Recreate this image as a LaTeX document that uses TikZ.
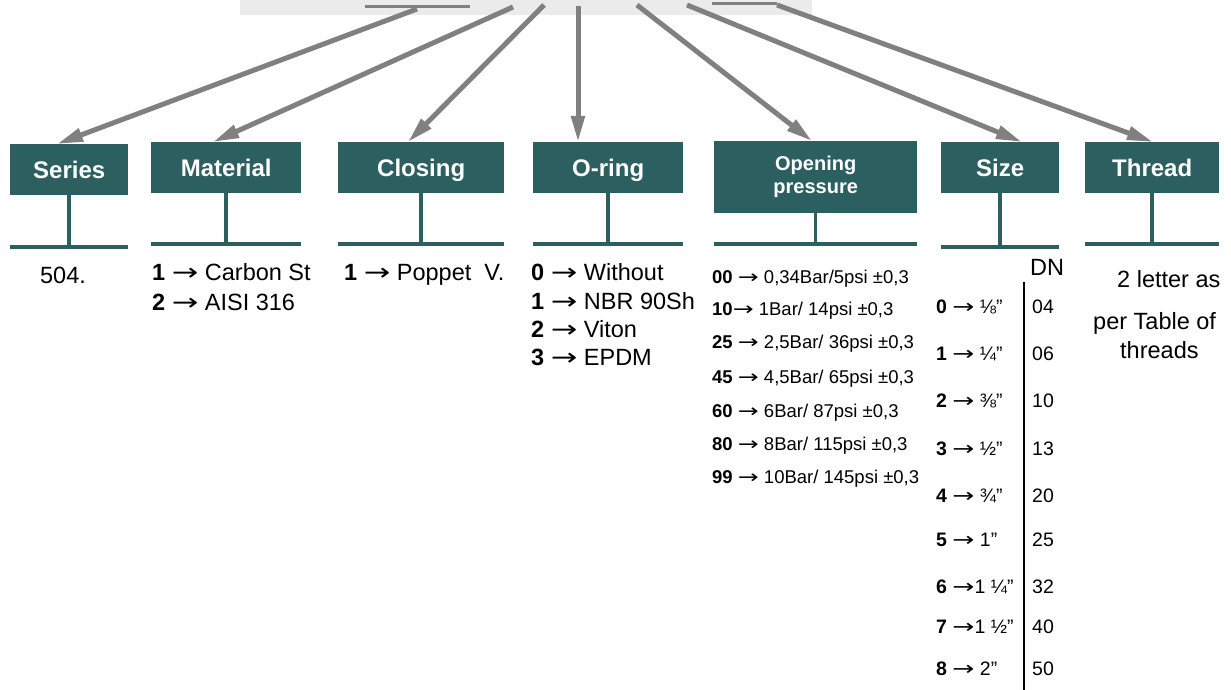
\documentclass[tikz,border=0pt]{standalone}
\usepackage{fontspec}
\setmainfont{Liberation Sans}
\newfontfamily\arrowfont{DejaVu Sans}
\newcommand{\pointer}{\scalebox{1.35}[1]{\arrowfont →}}
\usetikzlibrary{arrows.meta}
\definecolor{boxteal}{RGB}{44,95,96}
\definecolor{arrowgray}{RGB}{128,128,128}
\definecolor{bandgray}{RGB}{235,235,235}

\begin{document}
\begin{tikzpicture}[
  x=1pt, y=-1pt,
  >={Triangle[length=26pt,width=13pt]},
  field/.style={fill=boxteal,text=white,anchor=north west,inner sep=0pt,align=center,
    font=\fontsize{24}{26}\selectfont\bfseries},
  flatfield/.style={field,text height=17.5pt,text depth=0pt},
  pick/.style={->,draw=arrowgray,fill=arrowgray,line width=5pt},
  stem/.style={draw=boxteal,line width=3.5pt},
  entry/.style={anchor=base west,inner sep=0pt,font=\fontsize{23.5}{26}\selectfont},
  entrysmall/.style={anchor=base west,inner sep=0pt,font=\fontsize{18.5}{20}\selectfont},
  entrysize/.style={anchor=base west,inner sep=0pt,font=\fontsize{19.5}{22}\selectfont}
]
\useasboundingbox (0,0) rectangle (1231,690);

% band at the top
\fill[bandgray] (240,0) rectangle (812,15);
\draw[arrowgray,line width=3pt] (365,7) -- (470,7);
\draw[arrowgray,line width=3pt] (712,4) -- (777,4);
\coordinate (s-series) at (417,9);
\coordinate (s-material) at (513,7);
\coordinate (s-closing) at (544,5);
\coordinate (s-oring) at (578,6);
\coordinate (s-opening) at (637,5);
\coordinate (s-size) at (687,5);
\coordinate (s-thread) at (777,5);

% code fields
\node[flatfield,minimum width=118pt,minimum height=51pt] (series) at (10,144) {Series};
\node[flatfield,minimum width=150pt,minimum height=51pt] (material) at (151,142) {Material};
\node[flatfield,minimum width=166pt,minimum height=51pt] (closing) at (338,142) {Closing};
\node[flatfield,minimum width=150pt,minimum height=51pt] (oring) at (533,142) {O-ring};
\node[field,minimum width=203pt,minimum height=72pt,font=\fontsize{20}{23}\selectfont\bfseries]
  (opening) at (714,141) {Opening\\pressure};
\node[flatfield,minimum width=118pt,minimum height=51pt] (size) at (941,142) {Size};
\node[flatfield,minimum width=134pt,minimum height=51pt] (thread) at (1085,142) {Thread};

% stems and base lines
\foreach \f/\b in {series/247,material/244,closing/244,oring/244,opening/244,size/247,thread/244}{
  \coordinate (\f-base) at (\f.south |- 0,\b);
  \draw[stem] (\f.south) -- (\f-base);
  \draw[stem] (\f.west |- \f-base) -- (\f.east |- \f-base);
}

% arrows from the band
\draw[pick] (s-series) -- (series.north -| 57,0);
\draw[pick] (s-material) -- (material.north -| 213,0);
\draw[pick] (s-closing) -- (closing.north -| 408,0);
\draw[pick] (s-oring) -- (oring.north -| 578,0);
\draw[pick] (s-opening) -- (opening.north -| 812,0);
\draw[pick] (s-size) -- (size.north -| 1022,0);
\draw[pick] (s-thread) -- (thread.north -| 1153,0);

% values
\node[entry,anchor=base] (v-series) at (63,283) {504.};
\node[entry] (v-material1) at (152,280) {\textbf{1} \pointer{} Carbon St};
\node[entry] (v-material2) at (152,310) {\textbf{2} \pointer{} AISI 316};
\node[entry] (v-closing) at (344,280) {\textbf{1} \pointer{} Poppet\ \ V.};
\foreach \y/\t [count=\i] in {280/{\textbf{0} \pointer{} Without},309/{\textbf{1} \pointer{} NBR 90Sh},
    337/{\textbf{2} \pointer{} Viton},365/{\textbf{3} \pointer{} EPDM}}
  \node[entry] (v-oring\i) at (531,\y) {\t};
\foreach \y/\t [count=\i] in {283/{\textbf{00} \pointer{} 0,34Bar/5psi ±0,3},315/{\textbf{10}\pointer{} 1Bar/ 14psi ±0,3},
    348/{\textbf{25} \pointer{} 2,5Bar/ 36psi ±0,3},383/{\textbf{45} \pointer{} 4,5Bar/ 65psi ±0,3},
    417/{\textbf{60} \pointer{} 6Bar/ 87psi ±0,3},450/{\textbf{80} \pointer{} 8Bar/ 115psi ±0,3},
    483/{\textbf{99} \pointer{} 10Bar/ 145psi ±0,3}}
  \node[entrysmall] (v-opening\i) at (712,\y) {\t};

% sizes with DN column
\node[entry] (dn) at (1030,275) {DN};
\coordinate (dn-top) at (1024,282);
\coordinate (dn-bot) at (1024,690);
\draw[line width=2.5pt] (dn-top) -- (dn-bot);
\foreach \y/\t/\d [count=\i] in {313/{\textbf{0} \pointer{} ⅛”}/04,360/{\textbf{1} \pointer{} ¼”}/06,
    407/{\textbf{2} \pointer{} ⅜”}/10,455/{\textbf{3} \pointer{} ½”}/13,502/{\textbf{4} \pointer{} ¾”}/20,
    546/{\textbf{5} \pointer{} 1”}/25,593/{\textbf{6} \pointer{}1 ¼”}/32,633/{\textbf{7} \pointer{}1 ½”}/40,
    675/{\textbf{8} \pointer{} 2”}/50}{
  \node[entrysize] (v-size\i) at (936,\y) {\t};
  \node[entrysize] (v-dn\i) at (1032,\y) {\d};
}

% thread note
\node[entry] (v-thread1) at (1117,287) {2 letter as};
\node[entry] (v-thread2) at (1093,329) {per Table of};
\node[entry] (v-thread3) at (1120,358) {threads};
\end{tikzpicture}
\end{document}
